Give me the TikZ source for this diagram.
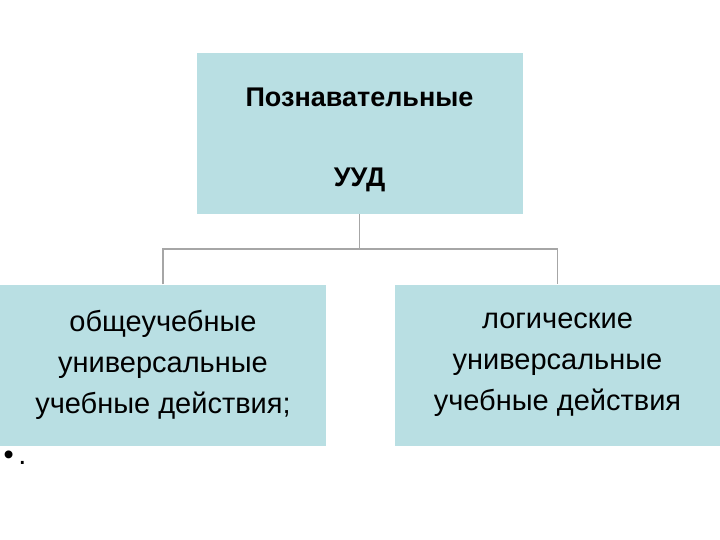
\documentclass[tikz,border=0pt]{standalone}
\usepackage{fontspec}
\setmainfont{Liberation Sans}
\definecolor{boxc}{HTML}{B9DFE3}
\definecolor{linec}{HTML}{A6A6A6}
\begin{document}
\begin{tikzpicture}[x=1pt,y=-1pt,
  box/.style={fill=boxc,draw=none,minimum width=326pt,minimum height=161pt,inner sep=0pt,align=center},
  conn/.style={draw=linec,line width=1.2pt}]
\useasboundingbox (0,0) rectangle (720,540);
\node[box] (top) at (359.5,133.5) {};
\node[font=\fontsize{27}{27}\selectfont\bfseries] (t1) at (359.5,97) {Познавательные};
\node[font=\fontsize{27}{27}\selectfont\bfseries] (t2) at (359.5,180) {УУД};
\node[box,minimum width=326pt,font=\fontsize{29}{41}\selectfont] (l) at (163,365) {общеучебные\\универсальные\\учебные действия;};
\node[box,minimum width=325pt,font=\fontsize{29}{41}\selectfont] (r) at (557.5,365) {логические\\универсальные\\учебные действия};
\coordinate (m) at (359.5,249);
\draw[conn] (top.south) -- (m);
\draw[conn] (l.north) |- (m) -| (r.north);
\node[font=\fontsize{29}{29}\selectfont,anchor=west] (b) at (0,458) {•\,.};
\end{tikzpicture}
\end{document}
